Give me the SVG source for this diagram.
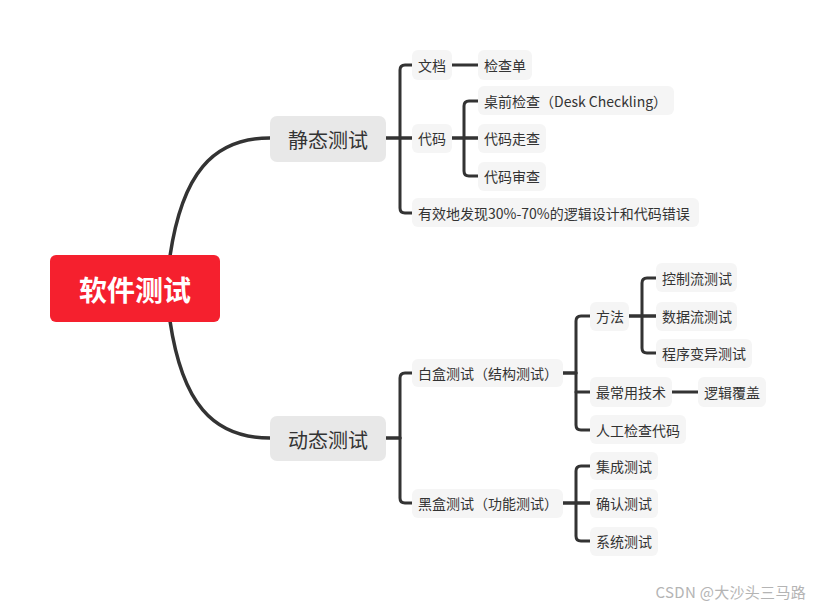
<svg xmlns="http://www.w3.org/2000/svg" width="816" height="607" viewBox="0 0 816 607">
<style>
.c{fill:none;stroke:#333;stroke-linecap:round;stroke-linejoin:round}
.m{stroke-width:3.5}
.b{stroke-width:3}
.n{fill:#f5f5f5}
.t{font-family:"Noto Sans CJK SC","Noto Sans",sans-serif;font-size:14px;fill:#333;dominant-baseline:central}
.l1{fill:#e8e8e8}
.t1{font-family:"Noto Sans CJK SC","Noto Sans",sans-serif;font-size:20px;fill:#333;dominant-baseline:central;text-anchor:middle}
</style>
<rect width="816" height="607" fill="#fff"/>
<g id="connectors">
<path class="c m" d="M170,256 C182,175 212,138 270,138"/>
<path class="c m" d="M170,321 C182,402 212,438 270,438"/>
<path class="c m" d="M386,138 H412"/>
<path class="c b" d="M412,65 H405 Q400,65 400,70 V208 Q400,213 405,213 H412"/>
<path class="c b" d="M452,65 H478"/>
<path class="c m" d="M452,138 H478"/>
<path class="c b" d="M478,101 H469 Q464,101 464,106 V171 Q464,176 469,176 H478"/>
<path class="c m" d="M386,438 H400"/>
<path class="c b" d="M412,373 H405 Q400,373 400,378 V498 Q400,503 405,503 H412"/>
<path class="c m" d="M563,373 H576"/>
<path class="c b" d="M590,316 H581 Q576,316 576,321 V425 Q576,430 581,430 H590"/>
<path class="c b" d="M576,392 H590"/>
<path class="c m" d="M629,316 H656"/>
<path class="c b" d="M656,278 H647 Q642,278 642,283 V348 Q642,353 647,353 H656"/>
<path class="c b" d="M672,392 H698"/>
<path class="c m" d="M563,503 H590"/>
<path class="c b" d="M590,466 H581 Q576,466 576,471 V536 Q576,541 581,541 H590"/>
</g>
<g id="root">
<rect x="50" y="255" width="170" height="67" rx="6" fill="#f5202e"/>
<text x="135" y="289" text-anchor="middle" dominant-baseline="central" font-family="Noto Sans CJK SC,sans-serif" font-size="28" font-weight="bold" fill="#fff">软件测试</text>
</g>
<g id="static">
<rect class="l1" x="270" y="116" width="116" height="46" rx="7"/>
<text class="t1" x="328" y="139">静态测试</text>
</g>
<g id="dynamic">
<rect class="l1" x="270" y="416" width="116" height="45" rx="7"/>
<text class="t1" x="328" y="439">动态测试</text>
</g>
<g id="doc"><rect class="n" x="412" y="50" width="40" height="30" rx="6"/><text class="t" x="418" y="65">文档</text></g>
<g id="checklist"><rect class="n" x="478" y="50" width="54" height="30" rx="6"/><text class="t" x="484" y="65">检查单</text></g>
<g id="code"><rect class="n" x="412" y="124" width="40" height="29" rx="6"/><text class="t" x="418" y="138">代码</text></g>
<g id="desk"><rect class="n" x="478" y="86" width="196" height="29" rx="6"/><text class="t" x="484" y="101">桌前检查（Desk Checkling）</text></g>
<g id="walk"><rect class="n" x="478" y="124" width="68" height="29" rx="6"/><text class="t" x="484" y="138">代码走查</text></g>
<g id="review"><rect class="n" x="478" y="162" width="68" height="29" rx="6"/><text class="t" x="484" y="176">代码审查</text></g>
<g id="effect"><rect class="n" x="412" y="198" width="287" height="29" rx="6"/><text class="t" x="418" y="213">有效地发现30%-70%的逻辑设计和代码错误</text></g>
<g id="whitebox"><rect class="n" x="412" y="359" width="151" height="28" rx="6"/><text class="t" x="418" y="373">白盒测试（结构测试）</text></g>
<g id="method"><rect class="n" x="590" y="302" width="39" height="29" rx="6"/><text class="t" x="596" y="316">方法</text></g>
<g id="cf"><rect class="n" x="656" y="263" width="81" height="29" rx="6"/><text class="t" x="662" y="278">控制流测试</text></g>
<g id="df"><rect class="n" x="656" y="302" width="81" height="29" rx="6"/><text class="t" x="662" y="316">数据流测试</text></g>
<g id="mut"><rect class="n" x="656" y="339" width="96" height="29" rx="6"/><text class="t" x="662" y="353">程序变异测试</text></g>
<g id="common"><rect class="n" x="590" y="377" width="82" height="30" rx="6"/><text class="t" x="596" y="392">最常用技术</text></g>
<g id="logic"><rect class="n" x="698" y="377" width="68" height="30" rx="6"/><text class="t" x="704" y="392">逻辑覆盖</text></g>
<g id="manual"><rect class="n" x="590" y="415" width="96" height="29" rx="6"/><text class="t" x="596" y="430">人工检查代码</text></g>
<g id="blackbox"><rect class="n" x="412" y="489" width="151" height="29" rx="6"/><text class="t" x="418" y="503">黑盒测试（功能测试）</text></g>
<g id="integ"><rect class="n" x="590" y="452" width="68" height="28" rx="6"/><text class="t" x="596" y="466">集成测试</text></g>
<g id="accept"><rect class="n" x="590" y="489" width="68" height="29" rx="6"/><text class="t" x="596" y="503">确认测试</text></g>
<g id="system"><rect class="n" x="590" y="527" width="68" height="29" rx="6"/><text class="t" x="596" y="541">系统测试</text></g>
<text x="806" y="591" text-anchor="end" dominant-baseline="central" font-family="Noto Sans CJK SC,sans-serif" font-size="15" fill="#b4b4b4" letter-spacing="0.3">CSDN @大沙头三马路</text>
</svg>
